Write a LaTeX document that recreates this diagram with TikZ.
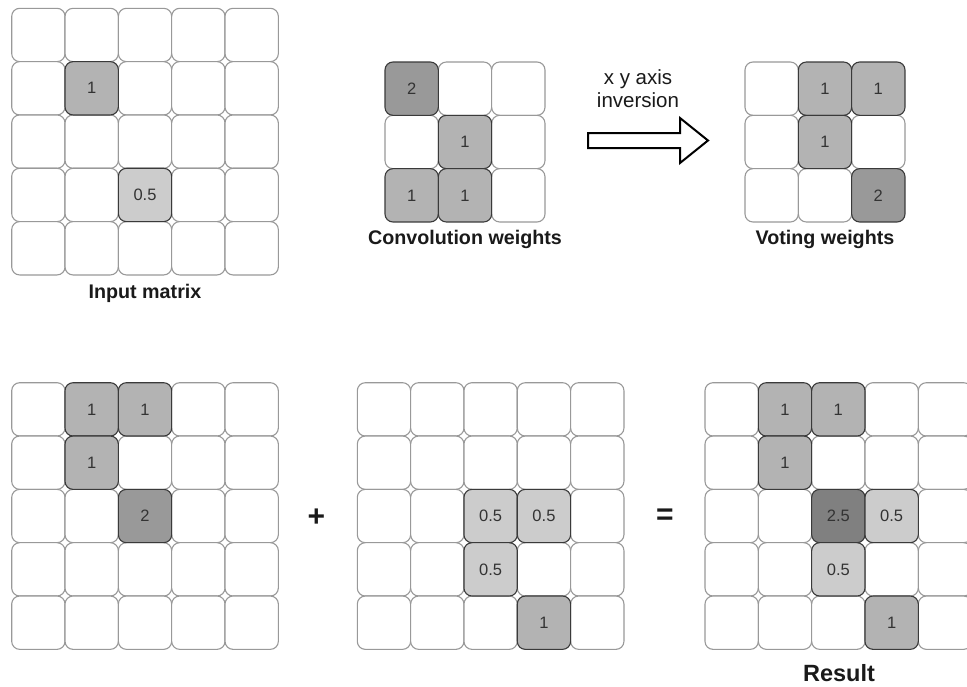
\documentclass[tikz,border=0pt]{standalone}
\usepackage{fontspec}
\setmainfont{Liberation Sans}
\usetikzlibrary{calc}

% cell fills
\definecolor{wone}{HTML}{B3B3B3}
\definecolor{wtwo}{HTML}{999999}
\definecolor{whalf}{HTML}{CCCCCC}
\definecolor{wtwohalf}{HTML}{808080}
\definecolor{cellline}{HTML}{999999}
\definecolor{darkline}{HTML}{3A3A3A}
\definecolor{celltext}{HTML}{333333}
\definecolor{labeltext}{HTML}{1A1A1A}

\def\pitch{53.33}

% \setcell{grid}{row}{col}{value}{fill colour}
\newcommand\setcell[5]{%
  \expandafter\def\csname cv@#1@#2@#3\endcsname{#4}%
  \expandafter\def\csname cf@#1@#2@#3\endcsname{#5}}

% \drawgrid{grid}{left}{top}{cells per side}
\newcommand\drawgrid[4]{%
  \foreach \r in {1,...,#4}{\foreach \c in {1,...,#4}{%
    \ifcsname cv@#1@\r @\c\endcsname\else
      \node[blankcell] (#1-\r-\c) at ({#2+(\c-0.5)*\pitch},{#3+(\r-0.5)*\pitch}) {};
    \fi}}%
  \foreach \r in {1,...,#4}{\foreach \c in {1,...,#4}{%
    \ifcsname cv@#1@\r @\c\endcsname
      \edef\cellfill{\csname cf@#1@\r @\c\endcsname}%
      \node[valuecell, fill=\cellfill] (#1-\r-\c) at ({#2+(\c-0.5)*\pitch},{#3+(\r-0.5)*\pitch})
        {\csname cv@#1@\r @\c\endcsname};
    \fi}}%
}

% input matrix
\setcell{in}{2}{2}{1}{wone}
\setcell{in}{4}{3}{0.5}{whalf}
% convolution weights
\setcell{conv}{1}{1}{2}{wtwo}
\setcell{conv}{2}{2}{1}{wone}
\setcell{conv}{3}{1}{1}{wone}
\setcell{conv}{3}{2}{1}{wone}
% voting weights
\setcell{vote}{1}{2}{1}{wone}
\setcell{vote}{1}{3}{1}{wone}
\setcell{vote}{2}{2}{1}{wone}
\setcell{vote}{3}{3}{2}{wtwo}
% vote cast by the cell holding 1
\setcell{va}{1}{2}{1}{wone}
\setcell{va}{1}{3}{1}{wone}
\setcell{va}{2}{2}{1}{wone}
\setcell{va}{3}{3}{2}{wtwo}
% vote cast by the cell holding 0.5
\setcell{vb}{3}{3}{0.5}{whalf}
\setcell{vb}{3}{4}{0.5}{whalf}
\setcell{vb}{4}{3}{0.5}{whalf}
\setcell{vb}{5}{4}{1}{wone}
% accumulated result
\setcell{res}{1}{2}{1}{wone}
\setcell{res}{1}{3}{1}{wone}
\setcell{res}{2}{2}{1}{wone}
\setcell{res}{3}{3}{2.5}{wtwohalf}
\setcell{res}{3}{4}{0.5}{whalf}
\setcell{res}{4}{3}{0.5}{whalf}
\setcell{res}{5}{4}{1}{wone}

\tikzset{
  cellbase/.style={rectangle, rounded corners=8pt, minimum size=\pitch pt,
    inner sep=0pt, outer sep=0pt, line width=1.1pt,
    font=\fontsize{16.5}{19}\selectfont, text=celltext},
  blankcell/.style={cellbase, draw=cellline, fill=white},
  valuecell/.style={cellbase, draw=darkline},
  caption/.style={anchor=base, inner sep=0pt, text=labeltext,
    font=\bfseries\fontsize{19.7}{23}\selectfont},
  opsign/.style={inner sep=0pt, text=labeltext,
    font=\bfseries\fontsize{30}{30}\selectfont},
  bigarrow/.style={draw=black, fill=white, line width=2pt, line join=miter},
}

\begin{document}
\begin{tikzpicture}[x=1pt, y=-1pt]
  \clip (0,0) rectangle (967,686);
  \fill[white] (0,0) rectangle (967,686);

  % top row: input, kernel, inverted kernel
  \drawgrid{in}{11.7}{8.3}{5}
  \drawgrid{conv}{385}{62}{3}
  \drawgrid{vote}{745}{62}{3}

  \node[caption] (lin) at (145,298.7) {Input matrix};
  \node[caption] (lconv) at (465,244) {Convolution weights};
  \node[caption] (lvote) at (825,244) {Voting weights};

  % block arrow for the inversion step
  \coordinate (ar) at (588,140.5);
  \draw[bigarrow] (ar) ++(0,-7.5) -- ++(92,0) -- ++(0,-15) -- ++(28,22.5)
    -- ++(-28,22.5) -- ++(0,-15) -- ++(-92,0) -- cycle;
  \node[align=center, inner sep=0pt, text=labeltext,
    font=\fontsize{20.5}{22.5}\selectfont, anchor=base] (linv) at (638,107)
    {x y axis\\inversion};

  % bottom row: the two votes and their sum
  \drawgrid{va}{11.7}{382.7}{5}
  \drawgrid{vb}{357.3}{382.7}{5}
  \drawgrid{res}{705}{382.7}{5}

  \node[opsign] (plus) at (316.5,518) {+};
  \node[opsign] (eq) at (665,516.5) {=};
  \node[caption, font=\bfseries\fontsize{23.5}{27}\selectfont] (lres) at (839,681.5) {Result};
\end{tikzpicture}
\end{document}
